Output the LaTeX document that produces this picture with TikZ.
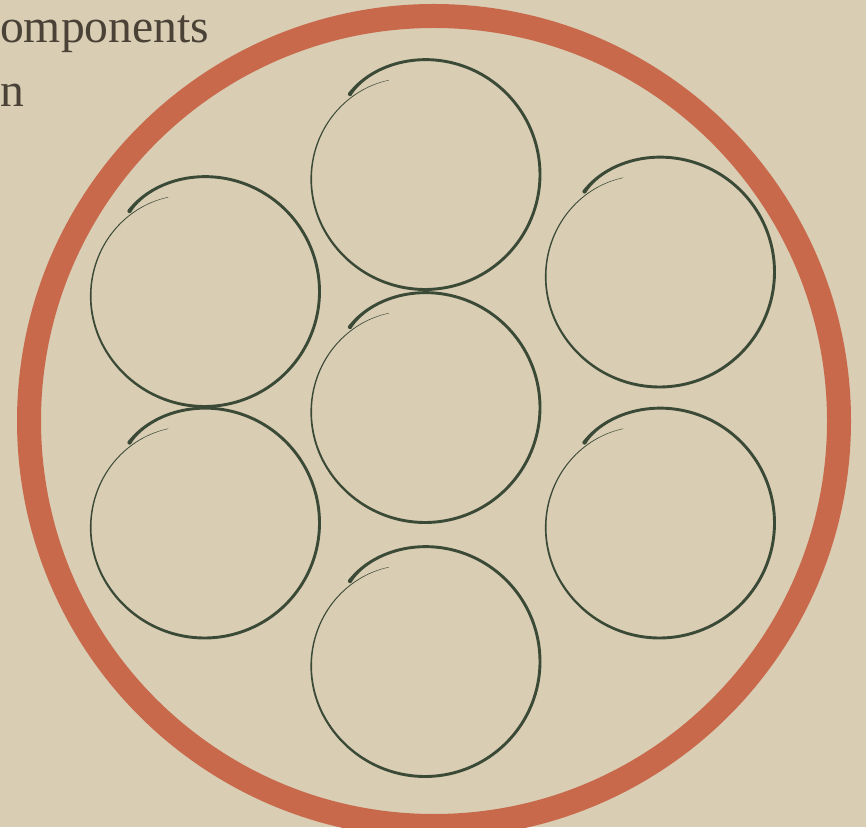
\documentclass[tikz,border=0pt]{standalone}
\usepackage{fontspec}
\setmainfont{Liberation Serif}
\definecolor{bgbeige}{HTML}{D9CDB4}
\definecolor{ringred}{HTML}{C8694C}
\definecolor{inkgreen}{HTML}{3A4A36}
\definecolor{textgrey}{HTML}{4A4236}
\tikzset{
  declare function={
    Rr(\t)=115-5*exp(max(-15,-(133-\t)/12))-14*(max(0,(-150-\t)/99))^2;
    Ww(\t)=2.9+1.2*exp(max(-15,-(133-\t)/5))-2.5*min(1,max(0,(-100-\t)/149));
  },
  brushcircle/.pic={
    \fill[inkgreen] plot[domain=133:-249,samples=180,smooth] (\x:{Rr(\x)+Ww(\x)/2})
      -- plot[domain=-249:133,samples=180,smooth] (\x:{Rr(\x)-Ww(\x)/2}) -- cycle;
    \fill[inkgreen] (133:{Rr(133)}) circle (2.1);
  },
  outerring/.style={draw=ringred,line width=24pt},
  label/.style={text=textgrey,inner sep=0pt,font=\fontsize{47.6}{64}\selectfont}
}
\begin{document}
\begin{tikzpicture}[x=1pt,y=1pt]
\fill[bgbeige] (0,0) rectangle (866,827);
\useasboundingbox (0,0) rectangle (866,827);
\node[label,anchor=base west] (t1) at (0,784) {omponents};
\node[label,anchor=base west] (t2) at (0,720) {n};
\coordinate (ring) at (434,406);
\draw[outerring] (ring) circle (405);
\pic (ctop) at (425,652.5) {brushcircle};
\pic (cmid) at (425,419.5) {brushcircle};
\pic (cbot) at (425,165.5) {brushcircle};
\pic (cul) at (204.5,535.5) {brushcircle};
\pic (cll) at (204.5,304) {brushcircle};
\pic (cur) at (659.5,555) {brushcircle};
\pic (clr) at (659.5,304) {brushcircle};
\end{tikzpicture}
\end{document}
